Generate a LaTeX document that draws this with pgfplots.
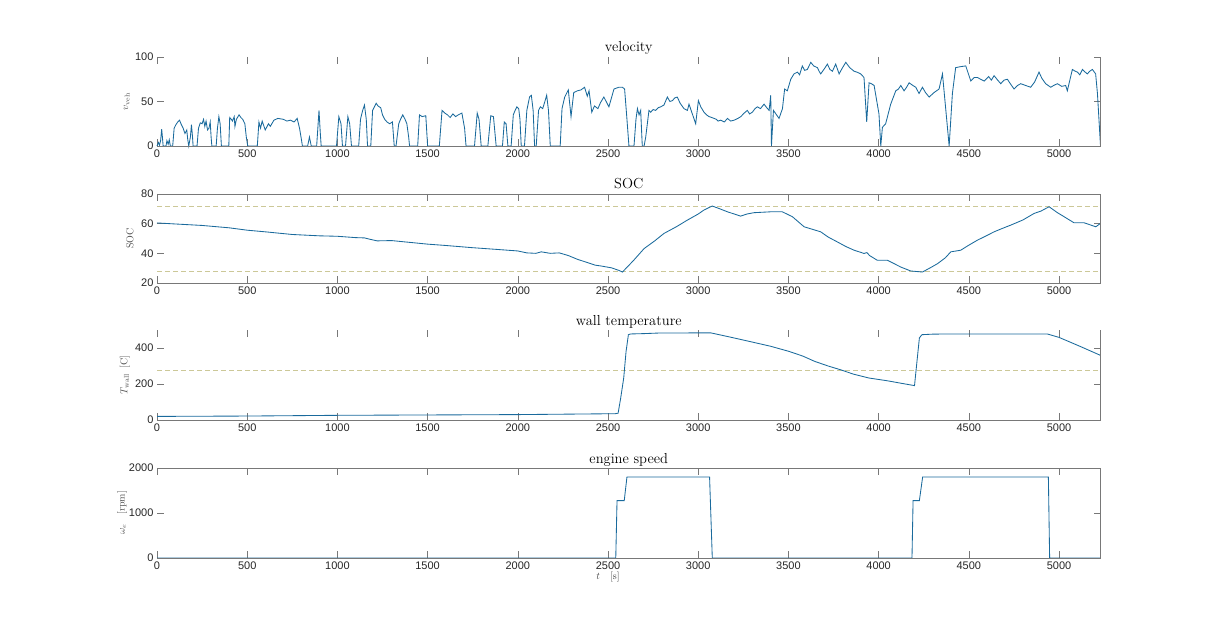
\documentclass[border=0pt]{standalone}
\usepackage{pgfplots}
\pgfplotsset{compat=1.18}
\usepackage{fontspec}
\setsansfont{Liberation Sans}
\definecolor{mblue}{RGB}{26,106,156}
\definecolor{mdash}{RGB}{204,200,152}
\definecolor{axgray}{RGB}{120,120,120}
\pgfplotsset{
 panel/.style={
  scale only axis, width=943.5pt, height=89pt, xmin=0, xmax=5230,
  anchor=south west,
  xtick={0,500,...,5000},
  tick align=inside, major tick length=7pt,
  axis line style={draw=none},
  every tick/.style={axgray, line width=0.6pt},
  tick label style={font=\fontsize{11}{12}\selectfont\sffamily, text=black!85},
  /pgf/number format/assume math mode=true,
  /pgf/number format/1000 sep={},
  scaled y ticks=false,
  title style={at={(0.5,1)}, anchor=base, yshift=-1pt, font=\fontsize{14.5}{16}\selectfont},
  ylabel style={anchor=center, font=\fontsize{10}{12}\selectfont, text=black!70},
  clip=false,
 },
 box3/.style={after end axis/.code={\draw[axgray, line width=0.6pt] (rel axis cs:0,0) -- (rel axis cs:1,0) -- (rel axis cs:1,1);}},
 box4/.style={after end axis/.code={\draw[axgray, line width=0.6pt] (rel axis cs:0,1) -- (rel axis cs:1,1) -- (rel axis cs:1,0) -- (rel axis cs:0,0);}},
 dat/.style={mblue, line width=0.85pt},
 lim/.style={mdash, line width=0.8pt, dash pattern=on 5pt off 3pt},
}
\begin{document}
\begin{tikzpicture}
\useasboundingbox (0,0) rectangle (1217pt,627pt);
% velocity
\begin{axis}[panel, box3, at={(157pt,481pt)}, ymin=0, ymax=100, ytick={0,50,100},
  title={velocity}, ylabel={$v_{\mathrm{veh}}$},
  ylabel style={at={(axis description cs:-0.032,0.5)}}]
\addplot[dat] coordinates {(0,0)(8,4)(14,1)(20,6)(26,19)(30,10)(34,0)(50,0)(55,6)(62,2)(68,7)(74,0)(87,0)(95,20)(105,24)(115,27)(125,29)(135,24)(145,20)(155,14)(165,18)(170,8)(176,0)(185,10)(191,24)(197,10)(200,0)(222,0)(230,20)(240,26)(250,25)(258,30)(265,22)(272,28)(280,18)(288,20)(295,27)(300,10)(304,0)(328,0)(335,20)(343,33)(350,25)(357,0)(398,0)(403,32)(412,30)(418,28)(428,33)(432,22)(440,30)(455,35)(465,32)(475,30)(487,25)(495,10)(503,0)(556,0)(565,27)(574,20)(583,28)(600,18)(618,25)(628,22)(648,29)(670,31)(700,30)(720,28)(740,29)(760,27)(777,31)(790,20)(800,8)(806,0)(835,0)(845,10)(850,5)(855,0)(885,0)(898,40)(905,15)(910,0)(995,0)(1008,33)(1020,25)(1028,0)(1045,0)(1058,33)(1068,25)(1078,0)(1118,0)(1128,30)(1140,40)(1150,46)(1160,30)(1167,0)(1185,0)(1195,40)(1205,44)(1215,48)(1225,45)(1240,43)(1250,35)(1262,30)(1275,27)(1290,25)(1305,27)(1315,0)(1325,0)(1340,25)(1350,30)(1362,35)(1375,30)(1385,25)(1395,10)(1400,0)(1445,0)(1455,35)(1470,33)(1490,34)(1500,0)(1565,0)(1580,40)(1595,37)(1610,35)(1625,32)(1640,36)(1655,33)(1670,35)(1690,37)(1705,20)(1713,0)(1760,0)(1775,37)(1785,30)(1797,0)(1834,0)(1850,34)(1865,33)(1880,0)(1915,0)(1925,27)(1935,25)(1945,0)(1963,0)(1975,35)(1985,40)(1995,44)(2005,42)(2012,30)(2019,0)(2037,0)(2050,40)(2065,55)(2075,57)(2085,40)(2093,0)(2102,0)(2115,40)(2125,44)(2138,42)(2150,50)(2160,57)(2170,40)(2180,0)(2235,0)(2245,42)(2260,55)(2280,63)(2295,33)(2310,60)(2330,62)(2350,63)(2370,66)(2385,56)(2395,62)(2410,38)(2425,45)(2444,42)(2459,49)(2477,55)(2505,44)(2533,64)(2560,66)(2580,66)(2592,64)(2605,30)(2616,0)(2644,0)(2655,30)(2663,42)(2672,35)(2681,40)(2690,0)(2700,0)(2709,10)(2727,40)(2737,38)(2750,41)(2764,40)(2778,43)(2792,44)(2810,46)(2829,55)(2843,50)(2857,51)(2870,54)(2884,55)(2900,48)(2921,42)(2940,40)(2949,47)(2986,25)(3001,51)(3014,44)(3032,38)(3046,35)(3060,33)(3075,32)(3088,31)(3100,30)(3110,28)(3125,29)(3145,27)(3162,31)(3180,28)(3199,29)(3220,31)(3236,33)(3255,37)(3272,40)(3285,36)(3300,38)(3315,42)(3328,44)(3345,42)(3365,47)(3380,43)(3393,40)(3402,57)(3406,0)(3417,40)(3448,31)(3467,42)(3479,64)(3494,62)(3513,75)(3531,81)(3550,83)(3562,80)(3577,90)(3590,85)(3605,86)(3624,94)(3640,90)(3661,88)(3670,84)(3679,81)(3700,87)(3716,92)(3730,86)(3744,84)(3762,92)(3781,81)(3800,88)(3818,94)(3840,88)(3864,84)(3880,83)(3901,81)(3919,77)(3934,27)(3947,71)(3960,70)(3975,68)(4002,36)(4012,0)(4021,21)(4039,25)(4067,47)(4095,62)(4110,64)(4123,68)(4141,62)(4155,66)(4169,71)(4190,68)(4206,66)(4224,59)(4243,66)(4260,60)(4280,55)(4307,60)(4335,64)(4354,81)(4391,0)(4409,59)(4427,88)(4450,89)(4483,90)(4511,73)(4530,77)(4548,77)(4565,75)(4585,73)(4610,78)(4625,74)(4640,79)(4660,74)(4677,70)(4695,74)(4714,75)(4730,70)(4751,64)(4770,68)(4788,70)(4815,68)(4843,66)(4865,72)(4889,83)(4905,76)(4926,70)(4954,66)(4970,68)(4991,70)(5015,67)(5037,68)(5046,62)(5074,86)(5090,84)(5102,83)(5115,80)(5130,86)(5145,83)(5157,81)(5170,84)(5185,86)(5203,81)(5213,59)(5230,0)};
\end{axis}
% SOC
\begin{axis}[panel, box4, at={(157pt,344pt)}, ymin=20, ymax=80, ytick={20,40,60,80},
  title={SOC}, ylabel={SOC},
  ylabel style={at={(axis description cs:-0.0286,0.5)}}]
\addplot[lim] coordinates {(0,71.5)(5230,71.5)};
\addplot[lim] coordinates {(0,28)(5230,28)};
\addplot[dat] coordinates {(0,60.5)(100,59.8)(250,58.8)(400,57.2)(500,55.6)(600,54.5)(750,52.7)(900,51.8)(1000,51.5)(1100,50.6)(1150,50.4)(1180,49.5)(1220,48.4)(1300,48.6)(1400,47.4)(1500,46.2)(1600,45.3)(1750,43.8)(1900,42.5)(2000,41.6)(2050,40.3)(2100,40.0)(2130,41)(2180,40)(2230,40.3)(2280,38.5)(2330,36)(2380,34)(2430,32)(2460,31.5)(2520,30.2)(2560,28.5)(2580,27.4)(2640,35)(2700,43.2)(2760,48.5)(2810,53.4)(2880,58)(2940,62.4)(3000,66.5)(3032,69.2)(3078,71.9)(3120,70)(3162,68)(3235,65.1)(3270,66.5)(3309,67.4)(3402,68)(3466,68)(3522,64.7)(3587,57.9)(3679,54.5)(3720,51)(3771,47.7)(3820,44.5)(3864,42.1)(3900,40.7)(3919,39.9)(3935,40.5)(3950,38.5)(3993,35.3)(4049,35.3)(4090,32.8)(4122,30.8)(4178,28.1)(4243,27.4)(4290,30.5)(4326,33)(4370,37)(4400,41)(4455,42.1)(4500,45.5)(4548,48.9)(4600,52)(4640,54.5)(4690,57)(4732,59)(4800,62.5)(4862,66.9)(4900,68.5)(4945,71.4)(4990,67.5)(5028,64.7)(5083,60.6)(5139,60.6)(5204,57.9)(5230,60.2)};
\end{axis}
% wall temperature
\begin{axis}[panel, box3, at={(157pt,207pt)}, height=90pt, ymin=0, ymax=500, ytick={0,200,400},
  title={wall temperature}, ylabel={$T_{\mathrm{wall}}\;\;[\mathrm{C}]$},
  ylabel style={at={(axis description cs:-0.034,0.5)}}]
\addplot[lim] coordinates {(0,277)(5230,277)};
\addplot[dat] coordinates {(0,20)(500,22)(1000,26)(1500,28)(2000,30)(2540,35)(2556,38)(2570,120)(2587,233)(2600,380)(2613,474)(2625,478)(2700,480)(2778,483)(3000,484)(3070,484)(3180,460)(3282,437)(3400,410)(3504,381)(3580,355)(3645,326)(3720,300)(3786,280)(3860,255)(3948,233)(4048,218)(4120,205)(4199,191)(4210,300)(4226,456)(4240,474)(4300,477)(4391,478)(4700,478)(4935,478)(5000,459)(5117,409)(5230,359)};
\end{axis}
% engine speed
\begin{axis}[panel, box4, at={(157pt,69pt)}, height=90pt, ymin=0, ymax=2000, ytick={0,1000,2000},
  title={engine speed}, ylabel={$\omega_e\quad[\mathrm{rpm}]$},
  ylabel style={at={(axis description cs:-0.037,0.5)}},
  xlabel={$t\quad[\mathrm{s}]$},
  xlabel style={at={(axis description cs:0.478,-0.21)}, anchor=center, font=\fontsize{10}{12}\selectfont, text=black!75}]
\addplot[dat] coordinates {(0,0)(2543,0)(2550,1276)(2590,1276)(2605,1800)(3063,1800)(3078,0)(4185,0)(4191,1276)(4226,1276)(4244,1800)(4941,1800)(4948,0)(5230,0)};
\end{axis}
\end{tikzpicture}
\end{document}
